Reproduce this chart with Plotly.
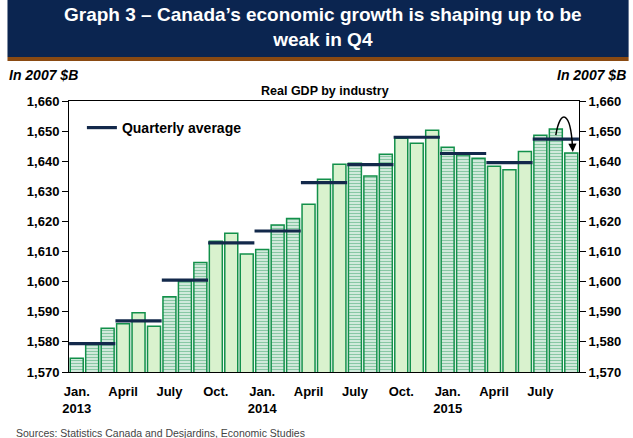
import numpy as np
import plotly.graph_objects as go

# Real GDP by industry, monthly, Jan. 2013 to Sep. 2015 (2007 $B)
gdp = [1574.6, 1579.2, 1584.5, 1586.0, 1589.7, 1585.2, 1595.0, 1600.2, 1606.4,
       1613.4, 1616.1, 1609.2, 1610.7, 1618.8, 1621.0, 1625.7, 1634.0, 1639.0,
       1639.3, 1635.1, 1642.3, 1647.6, 1646.0, 1650.3, 1644.6, 1642.1, 1641.0,
       1638.3, 1637.2, 1643.2, 1648.6, 1650.7, 1642.7]
tick_text = ["Jan.<br>2013", "April", "July", "Oct.", "Jan.<br>2014", "April",
             "July", "Oct.", "Jan.<br>2015", "April", "July"]
y_ticks = [1570, 1580, 1590, 1600, 1610, 1620, 1630, 1640, 1650, 1660]

n = len(gdp)
idx = np.arange(n)
quarter = idx // 3
q_avg = np.array(gdp).reshape(-1, 3).mean(axis=1)
q_mid = np.arange(len(q_avg)) * 3 + 1

hatched = [v if quarter[i] % 2 == 0 else None for i, v in enumerate(gdp)]
plain = [v if quarter[i] % 2 == 1 else None for i, v in enumerate(gdp)]

GREEN = "#12904A"
LIGHT = "#D9F2CE"
NAVY = "#13294B"
FONT = "Liberation Sans, Arial, sans-serif"

# plot-area pixel frame used for placing paper-anchored decorations
L, R, T, B = 69, 583, 101, 372
W, H = 633, 438


def px(x):
    return (x - L) / (R - L)


def py(y):
    return (B - y) / (B - T)


fig = go.Figure()
fig.add_trace(go.Bar(
    x=idx, y=hatched, showlegend=False,
    marker=dict(color="white", line=dict(color=GREEN, width=1.5),
                pattern=dict(shape="-", fgcolor=GREEN, bgcolor="white",
                             size=3, solidity=0.6)),
))
fig.add_trace(go.Bar(
    x=idx, y=plain, showlegend=False,
    marker=dict(color=LIGHT, line=dict(color=GREEN, width=1.5)),
))
fig.add_trace(go.Scatter(
    x=q_mid, y=q_avg, mode="markers", showlegend=False,
    marker=dict(symbol="line-ew", size=33, line=dict(color=NAVY, width=3.2)),
))
# legend entry
fig.add_trace(go.Scatter(
    x=[None], y=[None], mode="lines", name="Quarterly average",
    line=dict(color=NAVY, width=3.2),
))
# invisible trace to carry the right-hand axis
fig.add_trace(go.Scatter(x=[None], y=[None], yaxis="y2", showlegend=False))

# curved arrow from August to September
aug, sep = gdp[-2], gdp[-1]
fig.add_shape(type="path", xref="x", yref="y",
              path=f"M 31.0,{aug - 2} C 31.3,{aug + 7} 31.95,{aug + 6} 32.08,{sep + 2}",
              line=dict(color="black", width=1.5))
fig.add_annotation(x=32.1, y=sep + 0.4, ax=32.08, ay=sep + 2.5,
                   xref="x", yref="y", axref="x", ayref="y", text="",
                   showarrow=True, arrowhead=2, arrowsize=1.1, arrowwidth=1.5,
                   arrowcolor="black")

# title banner
fig.add_shape(type="rect", xref="paper", yref="paper",
              x0=px(7), x1=px(W), y0=py(57), y1=py(0),
              fillcolor="#0B2550", line=dict(width=0), layer="above")
fig.add_shape(type="rect", xref="paper", yref="paper",
              x0=px(7), x1=px(W), y0=py(61), y1=py(57),
              fillcolor="#8A4A12", line=dict(width=0), layer="above")
fig.add_annotation(xref="paper", yref="paper", x=px(325), y=py(27),
                   xanchor="center", yanchor="middle", showarrow=False,
                   text="<b>Graph 3 – Canada’s economic growth is shaping up to be<br>weak in Q4</b>",
                   font=dict(family=FONT, size=19, color="white"))

fig.add_annotation(xref="paper", yref="paper", x=px(7), y=py(75),
                   xanchor="left", yanchor="middle", showarrow=False,
                   text="<b><i>In 2007 $B</i></b>",
                   font=dict(family=FONT, size=14, color="black"))
fig.add_annotation(xref="paper", yref="paper", x=px(632), y=py(75),
                   xanchor="right", yanchor="middle", showarrow=False,
                   text="<b><i>In 2007 $B</i></b>",
                   font=dict(family=FONT, size=14, color="black"))
fig.add_annotation(xref="paper", yref="paper", x=px(327), y=py(91),
                   xanchor="center", yanchor="middle", showarrow=False,
                   text="<b>Real GDP by industry</b>",
                   font=dict(family=FONT, size=12.5, color="black"))
fig.add_annotation(xref="paper", yref="paper", x=px(14), y=py(425),
                   xanchor="left", yanchor="top", showarrow=False,
                   text="Sources: Statistics Canada and Desjardins, Economic Studies",
                   font=dict(family=FONT, size=10.5, color="#444444"))

yaxis_common = dict(
    range=[1570, 1660], tickvals=y_ticks, tickformat=",", showgrid=False,
    zeroline=False, showline=True, linecolor="black", linewidth=1,
    ticks="outside", ticklen=6, tickcolor="black",
    tickfont=dict(family=FONT, size=13, color="black", weight="bold"),
)

fig.update_layout(
    width=W, height=H,
    margin=dict(l=L, r=W - R, t=T, b=H - B),
    paper_bgcolor="white", plot_bgcolor="white",
    barmode="overlay", bargap=0.16,
    font=dict(family=FONT, color="black"),
    xaxis=dict(range=[-0.5, n - 0.5], tickvals=list(range(0, n, 3)),
               ticktext=tick_text, showgrid=False, zeroline=False,
               showline=True, linecolor="black", linewidth=1, mirror=True,
               ticks="", ticklabelstandoff=7,
               tickfont=dict(family=FONT, size=13, color="black", weight="bold")),
    yaxis=dict(side="left", **yaxis_common),
    yaxis2=dict(side="right", overlaying="y", **yaxis_common),
    legend=dict(x=px(82), y=py(112), xanchor="left", yanchor="top",
                bgcolor="rgba(0,0,0,0)", borderwidth=0,
                font=dict(family=FONT, size=14, color="black", weight="bold"),
                itemwidth=30),
)

fig.write_html("out.html")
